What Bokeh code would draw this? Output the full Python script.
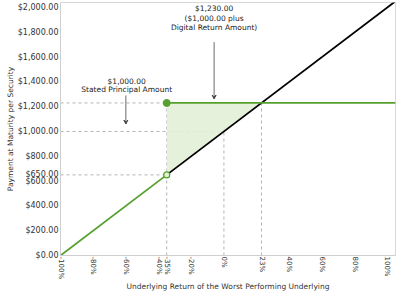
from bokeh.plotting import figure
from bokeh.models import (FixedTicker, Range1d, Arrow, VeeHead, Label)
from bokeh.embed import file_html
from bokeh.resources import INLINE

# Payoff profile values (underlying return in %, payment in $)
principal = 1000.0
digital_payment = 1230.0
threshold_return = -35.0
threshold_payment = 650.0
breakeven_return = 23.0

green_low_x = [-100, threshold_return]
green_low_y = [0, threshold_payment]
green_high_x = [threshold_return, 105]
green_high_y = [digital_payment, digital_payment]
black_x = [threshold_return, 105]
black_y = [threshold_payment, 2050]
shade_x = [threshold_return, threshold_return, breakeven_return]
shade_y = [threshold_payment, digital_payment, digital_payment]

x_ticks = [-100, -80, -60, -40, -35, -20, 0, 23, 40, 60, 80, 100]
y_ticks = [0, 200, 400, 600, 650, 800, 1000, 1200, 1400, 1600, 1800, 2000]

FONT = "DejaVu Sans"
GREEN = "#56a02e"
GRID = "#a0a0a0"
TEXT = "#333333"

p = figure(width=398, height=294, output_backend="svg", toolbar_location=None,
           x_range=Range1d(-100, 105), y_range=Range1d(0, 2040),
           min_border_left=60, min_border_right=3, min_border_top=2,
           min_border_bottom=37)
p.grid.visible = False
p.outline_line_color = "#d8d8d8"
p.background_fill_color = "white"

# axes
p.xaxis.ticker = FixedTicker(ticks=x_ticks)
p.xaxis.major_label_overrides = {t: f"{t}%" for t in x_ticks}
p.xaxis.major_label_orientation = "vertical"
p.yaxis.ticker = FixedTicker(ticks=y_ticks)
p.yaxis.major_label_overrides = {t: f"${t:,.2f}" for t in y_ticks}
for ax in (p.xaxis, p.yaxis):
    ax.axis_line_color = "#cfcfcf"
    ax.major_tick_line_color = None
    ax.minor_tick_line_color = None
    ax.major_tick_in = 0
    ax.major_tick_out = 0
    ax.major_label_text_font = FONT
    ax.major_label_text_color = TEXT
    ax.axis_label_text_font = FONT
    ax.axis_label_text_font_size = "7.5px"
    ax.axis_label_text_font_style = "normal"
    ax.axis_label_text_color = TEXT
    ax.axis_label_standoff = 0
p.xaxis.major_label_text_font_size = "7px"
p.yaxis.major_label_text_font_size = "8px"
p.xaxis.major_label_standoff = 1
p.yaxis.major_label_standoff = 2
p.xaxis.axis_label = "Underlying Return of the Worst Performing Underlying"
p.yaxis.axis_label = "Payment at Maturity per Security"

# dashed reference lines
dash = dict(line_color=GRID, line_dash="3 3", line_width=0.8)
p.line([-100, threshold_return], [digital_payment, digital_payment], **dash)
p.line([-100, 0], [principal, principal], **dash)
p.line([-100, threshold_return], [threshold_payment, threshold_payment], **dash)
p.line([threshold_return, threshold_return], [0, digital_payment], **dash)
p.line([0, 0], [0, principal], **dash)
p.line([breakeven_return, breakeven_return], [0, digital_payment], **dash)

# shaded outperformance region
p.patch(shade_x, shade_y, fill_color="#e3f0d8", fill_alpha=0.9, line_color=None)

# payoff lines
p.line(black_x, black_y, line_color="black", line_width=1.8)
p.line(green_low_x, green_low_y, line_color=GREEN, line_width=1.8)
p.line(green_high_x, green_high_y, line_color=GREEN, line_width=1.8)
p.scatter([threshold_return], [digital_payment], size=7, fill_color=GREEN,
          line_color=GREEN)
p.scatter([threshold_return], [threshold_payment], size=6, fill_color="#e3f0d8",
          line_color=GREEN, line_width=1.2)

# annotations
def note(x, y, txt):
    p.add_layout(Label(x=x, y=y, text=txt, text_font=FONT, text_font_size="7.5px",
                       text_color="#222222", text_align="center",
                       text_baseline="middle"))

note(-59.5, 1405, "$1,000.00")
note(-59.5, 1335, "Stated Principal Amount")
p.add_layout(Arrow(x_start=-60, y_start=1290, x_end=-60, y_end=1060,
                   line_color="#444444", line_width=0.8,
                   end=VeeHead(size=4, line_color="#444444", fill_color="#444444")))

note(-6, 1990, "$1,230.00")
note(-6, 1915, "($1,000.00 plus")
note(-6, 1840, "Digital Return Amount)")
p.add_layout(Arrow(x_start=-6, y_start=1720, x_end=-6, y_end=1262,
                   line_color="#444444", line_width=0.8,
                   end=VeeHead(size=4, line_color="#444444", fill_color="#444444")))

open("out.html", "w").write(file_html(p, INLINE))
